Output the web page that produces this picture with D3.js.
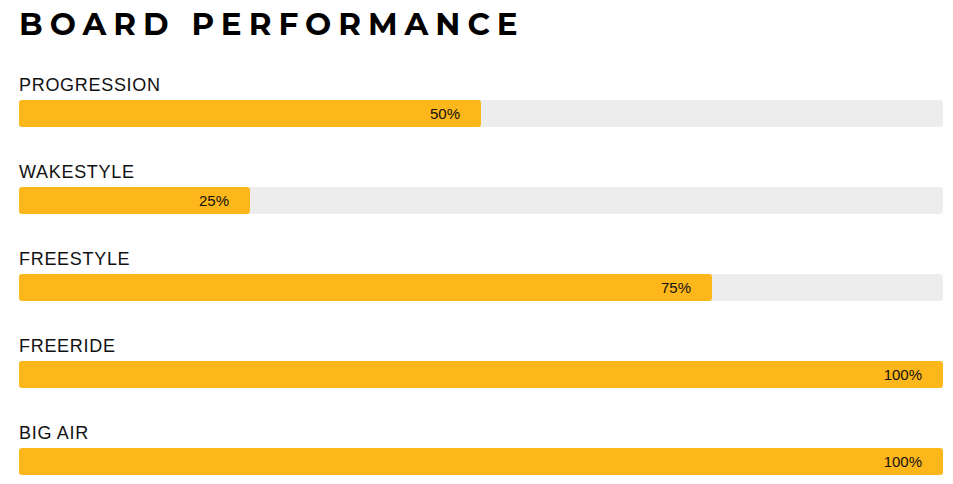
<!DOCTYPE html>
<html><head><meta charset="utf-8">
<script src="https://cdn.jsdelivr.net/npm/d3@7"></script>
<style>body{margin:0;background:#fff}</style>
</head><body>
<svg id="c" width="953" height="484"></svg>
<script>
const title = "BOARD PERFORMANCE";
const categories = ["PROGRESSION","WAKESTYLE","FREESTYLE","FREERIDE","BIG AIR"];
const values = [50,25,75,100,100];

const svg = d3.select("#c");
const x = d3.scaleLinear().domain([0,100]).range([19,943]);
const y = d3.scaleBand().domain(categories).range([71,506]).paddingInner(0).paddingOuter(0);

svg.append("text").attr("x",19).attr("y",35)
  .attr("font-family","Montserrat, 'DejaVu Sans', sans-serif").attr("font-weight",700)
  .attr("font-size",31).attr("letter-spacing",7).attr("fill","#000").text(title);

const g = svg.selectAll("g.row").data(categories).join("g").attr("class","row")
  .attr("transform",d=>`translate(0,${y(d)})`);
g.append("text").attr("x",19).attr("y",20)
  .attr("font-family","'Liberation Sans', Arial, sans-serif").attr("font-size",18)
  .attr("letter-spacing",0.7).attr("fill","#111").text(d=>d);
g.append("rect").attr("x",x(0)).attr("y",29).attr("width",x(100)-x(0)).attr("height",27)
  .attr("rx",3).attr("fill","#ededed");
g.append("rect").attr("x",x(0)).attr("y",29).attr("width",(d,i)=>x(values[i])-x(0)).attr("height",27)
  .attr("rx",3).attr("fill","#fdb71a");
g.append("text").attr("x",(d,i)=>x(values[i])-21).attr("y",48).attr("text-anchor","end")
  .attr("font-family","'Liberation Sans', Arial, sans-serif").attr("font-size",15)
  .attr("fill","#111").text((d,i)=>values[i]+"%");
</script>
</body></html>
